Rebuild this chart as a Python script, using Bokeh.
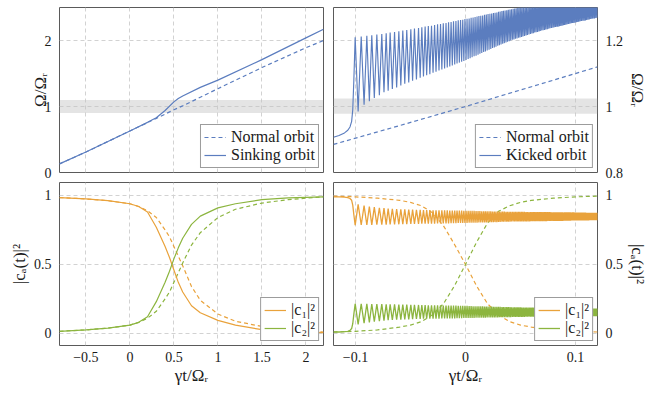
from bokeh.plotting import figure
from bokeh.layouts import column, row
from bokeh.models import Range1d, FixedTicker, BoxAnnotation, Legend, LegendItem
from bokeh.embed import file_html
from bokeh.resources import INLINE

# ---------------- data ----------------
# top-left: frequency vs time (normal vs sinking orbit)
tl_x = [-0.8, -0.5, 0.0, 0.2, 0.3, 0.4, 0.5, 0.55, 0.6, 0.8, 1.0, 1.5, 2.0, 2.2]
tl_normal = [0.13, 0.31, 0.63, 0.755, 0.82, 0.885, 0.95, 0.98, 1.01, 1.14, 1.27, 1.59, 1.89, 2.0]
tl_sinking = [0.13, 0.31, 0.63, 0.76, 0.83, 0.94, 1.07, 1.12, 1.16, 1.29, 1.40, 1.71, 2.04, 2.17]
tl_band = [0.9, 1.1]

# top-right: normal vs kicked orbit
tr_normal_x = [-0.12, -0.06, 0.0, 0.06, 0.12]
tr_normal = [0.885, 0.942, 1.0, 1.06, 1.12]
tr_band = [0.978, 1.024]

# kicked orbit before the kick
pre_t = [-0.12, -0.115, -0.11, -0.107, -0.105, -0.1035, -0.1025, -0.1015]
kick_pre = [0.907, 0.912, 0.920, 0.928, 0.938, 0.955, 0.99, 1.08]
c1_pre = [0.99, 0.99, 0.988, 0.985, 0.978, 0.965, 0.93, 0.86]
c2_pre = [0.01, 0.01, 0.012, 0.015, 0.022, 0.035, 0.07, 0.14]

# times of the oscillation maxima (of Omega) and of the minima between them
peak_t = [-0.1003, -0.0948, -0.0897, -0.0852, -0.0806, -0.0761, -0.0721, -0.0685, -0.0645, -0.0606,
          -0.0570, -0.0534, -0.0497, -0.0464, -0.0427, -0.0397, -0.0367, -0.0338, -0.0309, -0.0281,
          -0.0254, -0.0227, -0.0202, -0.0177, -0.0154, -0.0131, -0.0109, -0.0087, -0.0066, -0.0045,
          -0.0025, -0.0005, 0.0014, 0.0033, 0.0051, 0.0069, 0.0087, 0.0105, 0.0122, 0.0139,
          0.0156, 0.0173, 0.0189, 0.0205, 0.0222, 0.0238, 0.0254, 0.0269, 0.0285, 0.0300,
          0.0315, 0.0331, 0.0345, 0.0360, 0.0375, 0.0389, 0.0404, 0.0418, 0.0433, 0.0447,
          0.0461, 0.0475, 0.0488, 0.0502, 0.0515, 0.0529, 0.0543, 0.0556, 0.0570, 0.0584,
          0.0597, 0.0610, 0.0623, 0.0635, 0.0648, 0.0661, 0.0674, 0.0686, 0.0699, 0.0712,
          0.0725, 0.0737, 0.0750, 0.0763, 0.0775, 0.0788, 0.0801, 0.0813, 0.0825, 0.0836,
          0.0848, 0.0860, 0.0872, 0.0884, 0.0895, 0.0907, 0.0919, 0.0931, 0.0943, 0.0955,
          0.0966, 0.0978, 0.0990, 0.1002, 0.1014, 0.1025, 0.1037, 0.1049, 0.1061, 0.1073,
          0.1085, 0.1096, 0.1108, 0.1120, 0.1132, 0.1144, 0.1155, 0.1167, 0.1179, 0.1191,
          0.1203]
trough_t = [-0.0976, -0.0922, -0.0874, -0.0829, -0.0783, -0.0741, -0.0703, -0.0665, -0.0626, -0.0588,
            -0.0552, -0.0516, -0.0481, -0.0446, -0.0412, -0.0382, -0.0353, -0.0324, -0.0295, -0.0268,
            -0.0241, -0.0215, -0.0190, -0.0166, -0.0143, -0.0120, -0.0098, -0.0077, -0.0056, -0.0035,
            -0.0015, 0.0005, 0.0024, 0.0042, 0.0060, 0.0078, 0.0096, 0.0114, 0.0131, 0.0148,
            0.0165, 0.0181, 0.0197, 0.0214, 0.0230, 0.0246, 0.0262, 0.0277, 0.0293, 0.0308,
            0.0323, 0.0338, 0.0353, 0.0368, 0.0382, 0.0397, 0.0411, 0.0426, 0.0440, 0.0454,
            0.0468, 0.0482, 0.0495, 0.0509, 0.0522, 0.0536, 0.0550, 0.0563, 0.0577, 0.0591,
            0.0604, 0.0617, 0.0629, 0.0642, 0.0655, 0.0668, 0.0680, 0.0693, 0.0706, 0.0719,
            0.0731, 0.0744, 0.0757, 0.0769, 0.0782, 0.0795, 0.0807, 0.0819, 0.0831, 0.0842,
            0.0854, 0.0866, 0.0878, 0.0890, 0.0901, 0.0913, 0.0925, 0.0937, 0.0949, 0.0961,
            0.0972, 0.0984, 0.0996, 0.1008, 0.1020, 0.1031, 0.1043, 0.1055, 0.1067, 0.1079,
            0.1091, 0.1102, 0.1114, 0.1126, 0.1138, 0.1150, 0.1161, 0.1173, 0.1185, 0.1197,
            0.1209]

# kicked orbit: Omega at maxima / minima
kick_hi = [1.210, 1.212, 1.214, 1.216, 1.218, 1.220, 1.222, 1.224, 1.226, 1.228,
           1.230, 1.232, 1.234, 1.236, 1.238, 1.240, 1.242, 1.244, 1.245, 1.247,
           1.249, 1.250, 1.252, 1.253, 1.255, 1.256, 1.258, 1.259, 1.261, 1.262,
           1.263, 1.265, 1.266, 1.267, 1.269, 1.270, 1.271, 1.273, 1.274, 1.275,
           1.276, 1.278, 1.279, 1.280, 1.281, 1.282, 1.283, 1.284, 1.285, 1.287,
           1.288, 1.289, 1.290, 1.291, 1.292, 1.293, 1.294, 1.295, 1.296, 1.297,
           1.298, 1.299, 1.300, 1.301, 1.302, 1.303, 1.304, 1.305, 1.306, 1.307,
           1.308, 1.309, 1.310, 1.310, 1.311, 1.312, 1.313, 1.314, 1.315, 1.316,
           1.317, 1.317, 1.318, 1.319, 1.320, 1.321, 1.322, 1.323, 1.324, 1.324,
           1.325, 1.326, 1.327, 1.328, 1.328, 1.329, 1.330, 1.331, 1.332, 1.333,
           1.334, 1.335, 1.335, 1.336, 1.337, 1.338, 1.339, 1.339, 1.340, 1.341,
           1.342, 1.343, 1.344, 1.344, 1.345, 1.346, 1.347, 1.348, 1.348, 1.349,
           1.350]
kick_lo = [0.985, 1.005, 1.016, 1.026, 1.034, 1.043, 1.048, 1.053, 1.058, 1.064,
           1.069, 1.073, 1.078, 1.082, 1.087, 1.091, 1.095, 1.098, 1.102, 1.105,
           1.109, 1.112, 1.115, 1.118, 1.121, 1.124, 1.127, 1.130, 1.133, 1.136,
           1.138, 1.141, 1.144, 1.146, 1.149, 1.152, 1.154, 1.157, 1.160, 1.162,
           1.165, 1.167, 1.170, 1.172, 1.174, 1.177, 1.179, 1.181, 1.184, 1.186,
           1.188, 1.190, 1.192, 1.194, 1.196, 1.198, 1.200, 1.202, 1.203, 1.205,
           1.206, 1.208, 1.209, 1.211, 1.212, 1.214, 1.215, 1.217, 1.218, 1.220,
           1.221, 1.222, 1.224, 1.225, 1.226, 1.227, 1.229, 1.230, 1.231, 1.232,
           1.233, 1.234, 1.236, 1.237, 1.238, 1.239, 1.240, 1.241, 1.242, 1.242,
           1.243, 1.244, 1.245, 1.246, 1.247, 1.248, 1.249, 1.250, 1.251, 1.252,
           1.253, 1.253, 1.254, 1.255, 1.256, 1.257, 1.258, 1.259, 1.260, 1.260,
           1.261, 1.262, 1.263, 1.264, 1.265, 1.266, 1.267, 1.267, 1.268, 1.269,
           1.270]

# |c2|^2 at Omega maxima / minima
c2_hi = [0.215, 0.214, 0.214, 0.213, 0.212, 0.212, 0.211, 0.210, 0.210, 0.209,
         0.208, 0.208, 0.207, 0.206, 0.206, 0.205, 0.205, 0.204, 0.204, 0.204,
         0.203, 0.203, 0.202, 0.202, 0.202, 0.201, 0.201, 0.201, 0.200, 0.200,
         0.199, 0.199, 0.199, 0.198, 0.198, 0.197, 0.197, 0.197, 0.196, 0.196,
         0.196, 0.195, 0.195, 0.194, 0.194, 0.194, 0.193, 0.193, 0.193, 0.192,
         0.192, 0.191, 0.191, 0.191, 0.190, 0.190, 0.190, 0.189, 0.189, 0.189,
         0.189, 0.189, 0.189, 0.189, 0.188, 0.188, 0.188, 0.188, 0.188, 0.188,
         0.187, 0.187, 0.187, 0.187, 0.187, 0.187, 0.186, 0.186, 0.186, 0.186,
         0.186, 0.186, 0.185, 0.185, 0.185, 0.185, 0.185, 0.185, 0.184, 0.184,
         0.184, 0.184, 0.184, 0.184, 0.183, 0.183, 0.183, 0.183, 0.183, 0.183,
         0.182, 0.182, 0.182, 0.182, 0.182, 0.182, 0.182, 0.181, 0.181, 0.181,
         0.181, 0.181, 0.181, 0.181, 0.180, 0.180, 0.180, 0.180, 0.180, 0.180,
         0.180]
c2_lo = [0.065, 0.074, 0.080, 0.085, 0.089, 0.092, 0.095, 0.097, 0.099, 0.100,
         0.101, 0.102, 0.103, 0.104, 0.105, 0.106, 0.106, 0.106, 0.107, 0.107,
         0.107, 0.108, 0.108, 0.108, 0.109, 0.109, 0.109, 0.110, 0.110, 0.110,
         0.111, 0.111, 0.111, 0.112, 0.112, 0.112, 0.113, 0.113, 0.113, 0.114,
         0.114, 0.114, 0.115, 0.115, 0.115, 0.116, 0.116, 0.116, 0.116, 0.117,
         0.117, 0.117, 0.117, 0.118, 0.118, 0.118, 0.118, 0.119, 0.119, 0.119,
         0.119, 0.119, 0.119, 0.119, 0.119, 0.119, 0.120, 0.120, 0.120, 0.120,
         0.120, 0.120, 0.120, 0.120, 0.120, 0.121, 0.121, 0.121, 0.121, 0.121,
         0.121, 0.121, 0.121, 0.121, 0.122, 0.122, 0.122, 0.122, 0.122, 0.122,
         0.122, 0.122, 0.122, 0.123, 0.123, 0.123, 0.123, 0.123, 0.123, 0.123,
         0.123, 0.123, 0.124, 0.124, 0.124, 0.124, 0.124, 0.124, 0.124, 0.124,
         0.124, 0.125, 0.125, 0.125, 0.125, 0.125, 0.125, 0.125, 0.125, 0.125,
         0.125]
# |c1|^2 at Omega maxima / minima
c1_lo = [0.785, 0.786, 0.786, 0.787, 0.788, 0.788, 0.789, 0.790, 0.790, 0.791,
         0.792, 0.792, 0.793, 0.794, 0.794, 0.795, 0.795, 0.796, 0.796, 0.796,
         0.797, 0.797, 0.798, 0.798, 0.798, 0.799, 0.799, 0.799, 0.800, 0.800,
         0.801, 0.801, 0.801, 0.802, 0.802, 0.803, 0.803, 0.803, 0.804, 0.804,
         0.804, 0.805, 0.805, 0.806, 0.806, 0.806, 0.807, 0.807, 0.807, 0.808,
         0.808, 0.809, 0.809, 0.809, 0.810, 0.810, 0.810, 0.811, 0.811, 0.811,
         0.811, 0.811, 0.811, 0.811, 0.812, 0.812, 0.812, 0.812, 0.812, 0.812,
         0.813, 0.813, 0.813, 0.813, 0.813, 0.813, 0.814, 0.814, 0.814, 0.814,
         0.814, 0.814, 0.815, 0.815, 0.815, 0.815, 0.815, 0.815, 0.816, 0.816,
         0.816, 0.816, 0.816, 0.816, 0.817, 0.817, 0.817, 0.817, 0.817, 0.817,
         0.818, 0.818, 0.818, 0.818, 0.818, 0.818, 0.818, 0.819, 0.819, 0.819,
         0.819, 0.819, 0.819, 0.819, 0.820, 0.820, 0.820, 0.820, 0.820, 0.820,
         0.820]
c1_hi = [0.935, 0.926, 0.920, 0.915, 0.911, 0.908, 0.905, 0.903, 0.901, 0.900,
         0.899, 0.898, 0.897, 0.896, 0.895, 0.894, 0.894, 0.894, 0.893, 0.893,
         0.893, 0.892, 0.892, 0.892, 0.891, 0.891, 0.891, 0.890, 0.890, 0.890,
         0.889, 0.889, 0.889, 0.888, 0.888, 0.888, 0.887, 0.887, 0.887, 0.886,
         0.886, 0.886, 0.885, 0.885, 0.885, 0.884, 0.884, 0.884, 0.884, 0.883,
         0.883, 0.883, 0.883, 0.882, 0.882, 0.882, 0.882, 0.881, 0.881, 0.881,
         0.881, 0.881, 0.881, 0.881, 0.881, 0.881, 0.880, 0.880, 0.880, 0.880,
         0.880, 0.880, 0.880, 0.880, 0.880, 0.879, 0.879, 0.879, 0.879, 0.879,
         0.879, 0.879, 0.879, 0.879, 0.878, 0.878, 0.878, 0.878, 0.878, 0.878,
         0.878, 0.878, 0.878, 0.877, 0.877, 0.877, 0.877, 0.877, 0.877, 0.877,
         0.877, 0.877, 0.876, 0.876, 0.876, 0.876, 0.876, 0.876, 0.876, 0.876,
         0.876, 0.875, 0.875, 0.875, 0.875, 0.875, 0.875, 0.875, 0.875, 0.875,
         0.875]

# bottom-right: normal orbit populations
br_x = [-0.12, -0.1, -0.08, -0.06, -0.05, -0.04, -0.03, -0.02, -0.01, 0.0,
        0.01, 0.02, 0.03, 0.04, 0.05, 0.06, 0.08, 0.1, 0.12]
br_c1_normal = [0.995, 0.99, 0.98, 0.965, 0.95, 0.925, 0.875, 0.78, 0.645, 0.5,
                0.345, 0.215, 0.135, 0.085, 0.06, 0.045, 0.025, 0.015, 0.01]
br_c2_normal = [0.01, 0.015, 0.025, 0.045, 0.06, 0.085, 0.135, 0.215, 0.345, 0.5,
                0.66, 0.8, 0.885, 0.925, 0.95, 0.965, 0.98, 0.99, 0.995]

# bottom-left: populations, normal (dashed) and sinking (solid)
bl_x = [-0.8, -0.5, -0.25, 0.0, 0.1, 0.2, 0.3, 0.4, 0.45, 0.5,
        0.55, 0.6, 0.7, 0.8, 1.0, 1.2, 1.5, 1.8, 2.2]
bl_c1_sink = [0.985, 0.975, 0.962, 0.94, 0.92, 0.88, 0.77, 0.63, 0.55, 0.46,
              0.37, 0.30, 0.20, 0.15, 0.094, 0.06, 0.027, 0.015, 0.006]
bl_c2_sink = [0.015, 0.025, 0.038, 0.06, 0.08, 0.12, 0.23, 0.37, 0.45, 0.54,
              0.62, 0.69, 0.79, 0.85, 0.91, 0.94, 0.97, 0.982, 0.99]
bl_c1_normal = [0.985, 0.975, 0.962, 0.94, 0.92, 0.89, 0.84, 0.75, 0.70, 0.63,
                0.56, 0.49, 0.34, 0.24, 0.14, 0.088, 0.05, 0.028, 0.01]
bl_c2_normal = [0.015, 0.025, 0.038, 0.06, 0.08, 0.11, 0.16, 0.25, 0.30, 0.37,
                0.44, 0.51, 0.64, 0.73, 0.84, 0.90, 0.945, 0.97, 0.99]

# ticks
left_xticks = [-0.5, 0, 0.5, 1, 1.5, 2]
left_xtick_labels = ["−0.5", "0", "0.5", "1", "1.5", "2"]
right_xticks = [-0.1, 0, 0.1]
right_xtick_labels = ["−0.1", "0", "0.1"]
tl_yticks = [0, 1, 2]
tl_ytick_labels = ["0", "1", "2"]
tr_yticks = [0.8, 1.0, 1.2]
tr_ytick_labels = ["0.8", "1", "1.2"]
c_yticks = [0, 0.5, 1]
c_ytick_labels = ["0", "0.5", "1"]

# ---------------- style ----------------
BLUE = "#5b7dbf"
ORANGE = "#e9a23b"
GREEN = "#8cb53f"
FONT = "Liberation Serif"
GRID = "#d2d2d2"


def interleave(a, b):
    out = []
    for u, v in zip(a, b):
        out += [u, v]
    return out


kick_x = pre_t + interleave(peak_t, trough_t)
kick_y = kick_pre + interleave(kick_hi, kick_lo)
c1_y = c1_pre + interleave(c1_lo, c1_hi)
c2_y = c2_pre + interleave(c2_hi, c2_lo)
n_k = min(len(kick_x), len(kick_y))
n_1 = min(len(kick_x), len(c1_y))
n_2 = min(len(kick_x), len(c2_y))


def make_fig(xr, yr, fh, xt, xl, yt, yl, yloc, borders, show_x, ylabel, label_standoff):
    p = figure(frame_width=264, frame_height=fh,
               x_range=Range1d(*xr), y_range=Range1d(*yr),
               y_axis_location=yloc,
               output_backend="svg", toolbar_location=None,
               min_border_left=borders[0], min_border_right=borders[1],
               min_border_top=borders[2], min_border_bottom=borders[3],
               background_fill_color="white", border_fill_color="white")
    p.outline_line_color = "#5a5a5a"
    p.outline_line_width = 1
    p.xaxis.ticker = FixedTicker(ticks=xt)
    p.yaxis.ticker = FixedTicker(ticks=yt)
    p.xaxis.major_label_overrides = dict(zip(xt, xl))
    p.yaxis.major_label_overrides = dict(zip(yt, yl))
    for ax in p.axis:
        ax.axis_line_color = None
        ax.major_tick_line_color = None
        ax.minor_tick_line_color = None
        ax.major_label_text_font = FONT
        ax.major_label_text_font_size = "14px"
        ax.major_label_text_color = "#1a1a1a"
        ax.axis_label_text_font = FONT
        ax.axis_label_text_font_size = "17px"
        ax.axis_label_text_font_style = "normal"
        ax.axis_label_text_color = "#1a1a1a"
    p.yaxis.major_label_standoff = 2
    p.yaxis.axis_label_standoff = label_standoff
    p.xaxis.major_label_standoff = 0
    p.xaxis.axis_label_standoff = 1
    p.yaxis.axis_label = ylabel
    if show_x:
        p.xaxis.axis_label = "γt/Ωᵣ"
    else:
        p.xaxis.visible = False
    for g in (p.xgrid, p.ygrid):
        g.grid_line_color = GRID
        g.grid_line_dash = "4 3"
        g.grid_line_width = 1
    return p


def style_legend(p, items):
    leg = Legend(items=items, location="bottom_right")
    leg.label_text_font = FONT
    leg.label_text_font_size = "16px"
    leg.label_text_color = "#1a1a1a"
    leg.border_line_color = "#3a3a3a"
    leg.border_line_width = 1
    leg.background_fill_color = "white"
    leg.background_fill_alpha = 1
    leg.padding = 3
    leg.spacing = 0
    leg.margin = 4
    leg.label_height = 18
    leg.glyph_height = 18
    leg.glyph_width = 22
    leg.label_standoff = 5
    p.add_layout(leg)


# top-left
p1 = make_fig((-0.8, 2.2), (0, 2.5), 165, left_xticks, left_xtick_labels,
              tl_yticks, tl_ytick_labels, "left", (59, 5, 7, 9), False, "Ω/Ωᵣ", -8)
p1.add_layout(BoxAnnotation(bottom=tl_band[0], top=tl_band[1], fill_color="#c4c4c4",
                            fill_alpha=0.45, line_color=None, level="underlay"))
r_n = p1.line(tl_x, tl_normal, line_color=BLUE, line_width=1.2, line_dash="4 3")
r_s = p1.line(tl_x, tl_sinking, line_color=BLUE, line_width=1.2)
style_legend(p1, [LegendItem(label="Normal orbit", renderers=[r_n]),
                  LegendItem(label="Sinking orbit", renderers=[r_s])])

# top-right
p2 = make_fig((-0.12, 0.12), (0.8, 1.3), 165, right_xticks, right_xtick_labels,
              tr_yticks, tr_ytick_labels, "right", (5, 52, 7, 9), False, "Ω/Ωᵣ", 2)
p2.add_layout(BoxAnnotation(bottom=tr_band[0], top=tr_band[1], fill_color="#c4c4c4",
                            fill_alpha=0.45, line_color=None, level="underlay"))
r_n2 = p2.line(tr_normal_x, tr_normal, line_color=BLUE, line_width=1.2, line_dash="4 3")
r_k = p2.line(kick_x[:n_k], kick_y[:n_k], line_color=BLUE, line_width=1.15)
style_legend(p2, [LegendItem(label="Normal orbit", renderers=[r_n2]),
                  LegendItem(label="Kicked orbit", renderers=[r_k])])

# bottom-left
p3 = make_fig((-0.8, 2.2), (-0.088, 1.094), 163, left_xticks, left_xtick_labels,
              c_yticks, c_ytick_labels, "left", (59, 5, 1, 42), True, "|cₐ(t)|²", 2)
p3.line(bl_x, bl_c1_normal, line_color=ORANGE, line_width=1.2, line_dash="4 3")
p3.line(bl_x, bl_c2_normal, line_color=GREEN, line_width=1.2, line_dash="4 3")
r_c1 = p3.line(bl_x, bl_c1_sink, line_color=ORANGE, line_width=1.2)
r_c2 = p3.line(bl_x, bl_c2_sink, line_color=GREEN, line_width=1.2)
style_legend(p3, [LegendItem(label="|c₁|²", renderers=[r_c1]),
                  LegendItem(label="|c₂|²", renderers=[r_c2])])

# bottom-right
p4 = make_fig((-0.12, 0.12), (-0.088, 1.094), 163, right_xticks, right_xtick_labels,
              c_yticks, c_ytick_labels, "right", (5, 52, 1, 42), True, "|cₐ(t)|²", 2)
p4.line(br_x, br_c1_normal, line_color=ORANGE, line_width=1.2, line_dash="4 3")
p4.line(br_x, br_c2_normal, line_color=GREEN, line_width=1.2, line_dash="4 3")
r_c1b = p4.line(kick_x[:n_1], c1_y[:n_1], line_color=ORANGE, line_width=1.3)
r_c2b = p4.line(kick_x[:n_2], c2_y[:n_2], line_color=GREEN, line_width=1.3)
style_legend(p4, [LegendItem(label="|c₁|²", renderers=[r_c1b]),
                  LegendItem(label="|c₂|²", renderers=[r_c2b])])

layout = column(row(p1, p2), row(p3, p4))
open("out.html", "w").write(file_html(layout, INLINE))
